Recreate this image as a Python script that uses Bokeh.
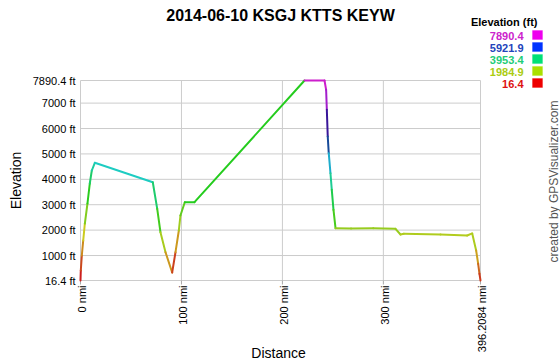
import math
import colorsys
from bokeh.plotting import figure
from bokeh.models import Range1d, FixedTicker, Label, BoxAnnotation, ColumnDataSource
from bokeh.embed import file_html
from bokeh.resources import INLINE

# ---------------- data ----------------
dist = [0, 0.3, 1.3, 2.7, 4.3, 6.9, 9.2, 11.2, 14.2, 71.6, 76.0, 79.2, 84.2, 90.8,
        94.1, 97.4, 99.0, 103.3, 112.9, 221.9, 241.7, 243.3, 244.0,
        244.9, 245.9, 247.6, 248.9, 250.6, 252.6, 268.0, 290.0, 312.0, 317.0, 320.3,
        356.6, 383.0, 388.0, 391.9, 393.9, 395.2, 396.2084]
elev = [16.4, 410, 1000, 1591, 2260, 3048, 3835, 4347, 4650, 3886, 2839, 1918, 1130, 330,
        1130, 1985, 2575, 3099, 3099, 7890.4, 7890.4, 7524, 6737,
        5686, 5028, 4240, 3587, 2800, 2075, 2060, 2075, 2051, 1827, 1854,
        1827, 1788, 1870, 1197, 674, 280, 16.4]

x_ticks = [0, 100, 200, 300, 396.2084]
x_tick_labels = ["0 nmi", "100 nmi", "200 nmi", "300 nmi", "396.2084 nmi"]
y_ticks = [16.4, 1000, 2000, 3000, 4000, 5000, 6000, 7000, 7890.4]
y_tick_labels = ["16.4 ft", "1000 ft", "2000 ft", "3000 ft", "4000 ft", "5000 ft",
                 "6000 ft", "7000 ft", "7890.4 ft"]
legend_values = ["7890.4", "5921.9", "3953.4", "1984.9", "16.4"]
legend_text_colors = ["#cc22cc", "#2244bb", "#22cc77", "#aacc11", "#dd1111"]
legend_box_colors = ["#ee00ee", "#0033ff", "#00e077", "#aae000", "#ee0000"]

XMIN, XMAX = 0, 396.2084
YMIN, YMAX = 16.4, 7890.4
FONT = "Liberation Sans"

# ---------------- layout (canvas pixels) ----------------
W, H = 560, 360
PL, PR, PT, PB = 80, 480, 80, 280        # plotting area inside the canvas
FRAME_LEFT = 76                           # frame starts here; y axis panel to its left
sx = (XMAX - XMIN) / (PR - PL)            # data units per pixel
sy = (YMAX - YMIN) / (PB - PT)
x_range = Range1d(XMIN - (PL - FRAME_LEFT) * sx, XMAX + (W - PR) * sx)
y_range = Range1d(YMIN - (H - PB) * sy, YMAX + PT * sy)


def elev_color(e):
    t = (e - YMIN) / (YMAX - YMIN)
    h = 300.0 * t / 360.0
    v = 0.8
    if 0.58 < h < 0.75:
        v = 0.6
    r, g, b = colorsys.hsv_to_rgb(h, 0.85, v)
    return "#%02x%02x%02x" % (int(r * 255), int(g * 255), int(b * 255))


p = figure(width=W, height=H, x_range=x_range, y_range=y_range,
           min_border_left=FRAME_LEFT, min_border_right=0, min_border_top=0, min_border_bottom=0,
           x_axis_location=None, output_backend="svg", toolbar_location=None, title=None)
p.background_fill_color = "white"
p.border_fill_color = "white"
p.outline_line_color = None
p.xgrid.visible = False
p.ygrid.visible = False

# y axis (real Bokeh axis in the left panel)
p.yaxis.ticker = FixedTicker(ticks=y_ticks)
p.yaxis.bounds = (YMIN, YMAX)
p.yaxis.major_label_overrides = {v: s for v, s in zip(y_ticks, y_tick_labels)}
p.yaxis.major_label_text_font = FONT
p.yaxis.major_label_text_font_size = "11px"
p.yaxis.major_label_text_color = "#000000"
p.yaxis.major_tick_out = 0
p.yaxis.major_tick_in = 0
p.yaxis.minor_tick_out = 0
p.yaxis.minor_tick_in = 0
p.yaxis.major_label_standoff = 1
p.yaxis.axis_line_color = None
p.yaxis.axis_label = "Elevation"
p.yaxis.axis_label_text_font = FONT
p.yaxis.axis_label_text_font_size = "14px"
p.yaxis.axis_label_text_font_style = "normal"
p.yaxis.axis_label_text_color = "#000000"
p.yaxis.axis_label_standoff = 6

# grid lines bounded to the plotting area
gx0 = list(x_ticks) + [XMIN] * len(y_ticks)
gx1 = list(x_ticks) + [XMAX] * len(y_ticks)
gy0 = [YMIN] * len(x_ticks) + list(y_ticks)
gy1 = [YMAX] * len(x_ticks) + list(y_ticks)
p.segment(gx0, gy0, gx1, gy1, line_color="#cccccc", line_width=1)
# small tick marks under the x axis
p.segment(list(x_ticks), [YMIN] * len(x_ticks), list(x_ticks),
          [YMIN - 4 * sy] * len(x_ticks), line_color="#aaaaaa", line_width=1)

# elevation line, coloured per segment by starting elevation
src = ColumnDataSource(dict(
    x0=dist[:-1], y0=elev[:-1], x1=dist[1:], y1=elev[1:],
    c=[elev_color(e) for e in elev[:-1]]))
p.segment("x0", "y0", "x1", "y1", source=src, line_color="c", line_width=2, line_cap="round")


def lab(x, y, text, x_units="canvas", **kw):
    opts = dict(x=x, y=y, text=text, x_units=x_units, y_units="canvas",
                text_baseline="middle", text_font=FONT, text_color="#000000")
    opts.update(kw)
    p.add_layout(Label(**opts))


lab(280, 15, "2014-06-10 KSGJ KTTS KEYW", text_align="center", text_font_size="16px",
    text_font_style="bold")
lab(278, 352, "Distance", text_align="center", text_font_size="14px")
for t, s in zip(x_ticks, x_tick_labels):
    lab(t, PB + 5, s, x_units="data", angle=math.pi / 2, text_align="right",
        text_font_size="11px", x_offset=1.5)

# legend
lab(537, 21, "Elevation (ft)", text_align="right", text_font_size="11px", text_font_style="bold")
for i, (s, tc, bc) in enumerate(zip(legend_values, legend_text_colors, legend_box_colors)):
    cy = 35 + 12 * i
    lab(523, cy, s, text_align="right", text_font_size="11px", text_font_style="bold",
        text_color=tc)
    p.add_layout(BoxAnnotation(left=532, right=542, top=cy - 5, bottom=cy + 4,
                               left_units="canvas", right_units="canvas",
                               top_units="canvas", bottom_units="canvas",
                               fill_color=bc, fill_alpha=1, line_color=bc, line_width=1))

lab(553, 181, "created by GPSVisualizer.com", angle=math.pi / 2, text_align="center",
    text_font_size="12px", text_color="#555555")

open("out.html", "w").write(file_html(p, INLINE))
